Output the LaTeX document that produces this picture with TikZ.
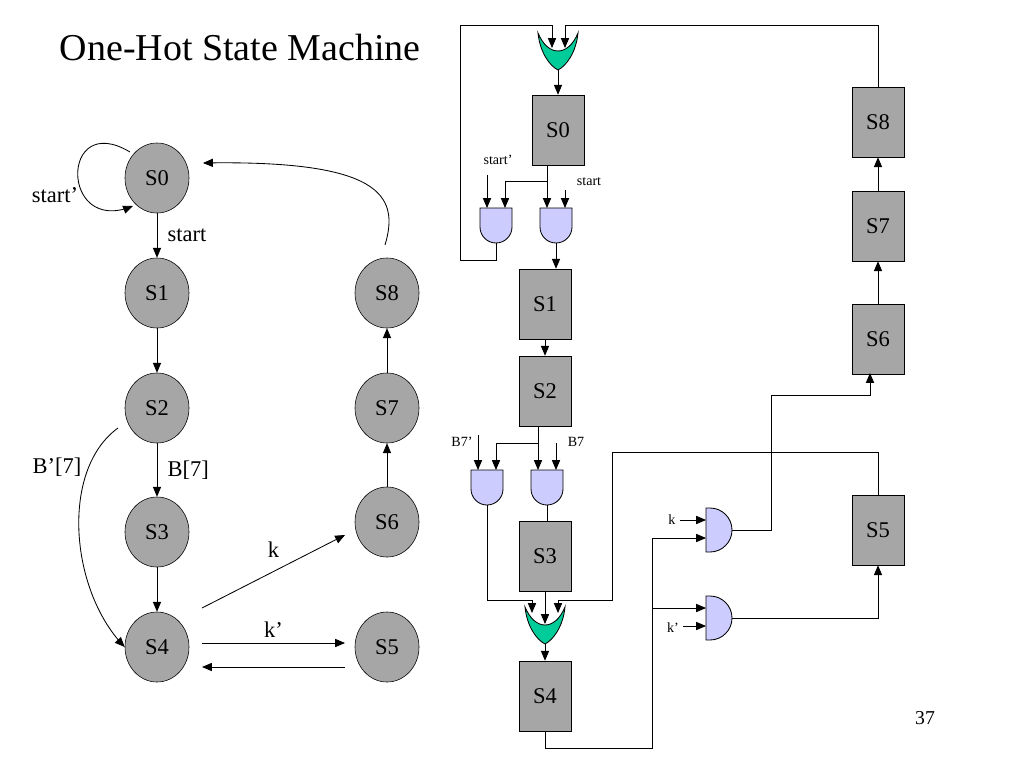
\documentclass[tikz,border=0pt]{standalone}
\usepackage{fontspec}
\setmainfont{Liberation Serif}
\usepackage{tikz}
\usetikzlibrary{shapes.geometric, positioning, arrows}

\definecolor{stategray}{RGB}{166,166,166}
\definecolor{orgreen}{RGB}{0,204,153}
\definecolor{andblue}{RGB}{204,204,255}

\tikzset{
	circ/.style = {ellipse, draw, fill=stategray, minimum width=1.6cm, minimum height=1.75cm, font=\fontsize{16}{18}\selectfont},
	box/.style = {rectangle, draw, fill=stategray, minimum width=1.3cm, minimum height=1.75cm, font=\fontsize{16}{18}\selectfont},
	arr/.style = {-triangle 45, line width=0.6pt},
	wire/.style = {line width=0.6pt},
	lbl/.style = {font=\fontsize{16}{18}\selectfont},
	small/.style = {font=\fontsize{10}{12}\selectfont},
	anddown/.pic = {
		\draw[fill=andblue, line width=0.6pt] (-16,0) -- (16,0) -- (16,19) arc[start angle=0, end angle=180, radius=16] -- cycle;
		\coordinate (-in1) at (-9,0);
		\coordinate (-in2) at (9,0);
		\coordinate (-out) at (0,35);
	},
	andright/.pic = {
		\draw[fill=andblue, line width=0.6pt] (0,-22) -- (4,-22) arc[start angle=-90, end angle=90, radius=22] -- (0,22) -- cycle;
		\coordinate (-in1) at (0,-10);
		\coordinate (-in2) at (0,8);
		\coordinate (-out) at (26,0);
	},
	orgate/.pic = {
		\draw[fill=orgreen, line width=0.6pt] (-20,0) .. controls (-18,20) and (-8,33) .. (0,37)
			.. controls (8,33) and (18,20) .. (20,0) .. controls (10,24) and (-10,24) .. (-20,0) -- cycle;
		\coordinate (-in1) at (-6,15);
		\coordinate (-in2) at (7,15);
		\coordinate (-inA) at (-13,6);
		\coordinate (-in0) at (0,17);
		\coordinate (-inB) at (13,6);
		\coordinate (-out) at (0,37);
	}
}

\begin{document}
\begin{tikzpicture}[x=0.025cm, y=-0.025cm]
	\useasboundingbox (0,0) rectangle (1024,768);

	\node[anchor=west, font=\fontsize{27}{30}\selectfont] (title) at (55,48) {One-Hot State Machine};
	\node[font=\fontsize{14}{16}\selectfont] (page) at (925,718) {37};

	% state diagram
	\node[circ] (c0) at (157,178) {S0};
	\node[circ] (c1) at (157,293) {S1};
	\node[circ] (c2) at (157,408) {S2};
	\node[circ] (c3) at (157,532) {S3};
	\node[circ] (c4) at (157,647) {S4};
	\node[circ] (c8) at (387,293) {S8};
	\node[circ] (c7) at (387,408) {S7};
	\node[circ] (c6) at (387,522) {S6};
	\node[circ] (c5) at (387,647) {S5};

	\draw[arr] (130,152) .. controls (60,110) and (60,235) .. (133,206);
	\node[lbl] (lstart') at (55,195) {start’};
	\draw[arr] (c0) -- node[lbl, right=4pt] {start} (c1);
	\draw[arr] (c1) -- (c2);
	\draw[arr] (c2) -- node[lbl, right=4pt] {B[7]} (c3);
	\draw[arr] (c3) -- (c4);
	\draw[arr] (118,428) .. controls (60,470) and (70,590) .. (c4.west);
	\node[lbl] (lb7') at (57,467) {B’[7]};
	\draw[arr] (202,608) -- node[lbl, above=6pt] {k} (345,535);
	\draw[arr] (202,643) -- node[lbl, above] {k’} (345,643);
	\draw[arr] (345,667) -- (202,667);
	\draw[arr] (c6) -- (c7);
	\draw[arr] (c7) -- (c8);
	\draw[arr] (385,245) .. controls (400,195) and (380,160) .. (203,163);

	% one-hot circuit
	\node[box] (s0) at (558,130) {S0};
	\node[box] (s1) at (545,304) {S1};
	\node[box] (s2) at (545,391) {S2};
	\node[box] (s3) at (545,556) {S3};
	\node[box] (s4) at (545,696) {S4};
	\node[box] (s8) at (878,122) {S8};
	\node[box] (s7) at (878,226) {S7};
	\node[box] (s6) at (878,339) {S6};
	\node[box] (s5) at (878,530) {S5};

	\pic (or0) at (558,33) {orgate};
	\pic (or4) at (545,607) {orgate};
	\pic (a0l) at (496,208) {anddown};
	\pic (a0r) at (556,208) {anddown};
	\pic (a2l) at (487,470) {anddown};
	\pic (a2r) at (547,470) {anddown};
	\pic (ak) at (706,530) {andright};
	\pic (akn) at (706,618) {andright};

	\coordinate (j0) at (547,181);
	\coordinate (j2) at (538,443);
	\coordinate (j4) at (652,608);

	\draw[arr] (a0l-out) |- (460,260) |- (or0-in1 |- 0,25) -- (or0-in1);
	\draw[arr] (s8.north) |- (or0-in2 |- 0,25) -- (or0-in2);
	\draw[arr] (or0-out) -- (s0.north);
	\draw[wire] (s0.south -| j0) -- (j0);
	\draw[arr] (j0) -| (a0l-in2);
	\draw[arr] (j0) -- (j0 |- a0r-in1);
	\draw[arr] (a0l-in1 |- 0,175) -- (a0l-in1);
	\draw[arr] (a0r-in2 |- 0,190) -- (a0r-in2);
	\node[small] (lst') at (498,160) {start’};
	\node[small] (lst) at (589,182) {start};
	\draw[arr] (a0r-out) -- (s1.north -| a0r-out);
	\draw[arr] (s1) -- (s2);

	\draw[wire] (s2.south -| j2) -- (j2);
	\draw[arr] (j2) -| (a2l-in2);
	\draw[arr] (j2) -- (j2 |- a2r-in1);
	\draw[arr] (a2l-in1 |- 0,435) -- (a2l-in1);
	\draw[arr] (a2r-in2 |- 0,443) -- (a2r-in2);
	\node[small] (lb7n) at (462,442) {B7’};
	\node[small] (lb7) at (576,442) {B7};
	\draw[wire] (a2r-out) -- (s3.north -| a2r-out);

	\draw[arr] (a2l-out) |- (or4-inA |- 0,600) -- (or4-inA);
	\draw[arr] (s3) -- (or4-in0);
	\draw[arr] (s5.north) |- (612,452) |- (or4-inB |- 0,600) -- (or4-inB);
	\draw[arr] (or4-out) -- (s4);

	\draw[arr] (s4.south) |- (652,748) |- (ak-in2);
	\draw[arr] (j4) -- (akn-in1);
	\draw[arr] (680,520) -- (ak-in1);
	\node[small] (lk) at (672,520) {k};
	\draw[arr] (683,626) -- (akn-in2);
	\node[small] (lkn) at (673,628) {k’};

	\draw[arr] (ak-out) -| (771,395) -| (870,373);
	\draw[arr] (akn-out) -| (s5.south);
	\draw[arr] (s6) -- (s7);
	\draw[arr] (s7) -- (s8);
\end{tikzpicture}
\end{document}
